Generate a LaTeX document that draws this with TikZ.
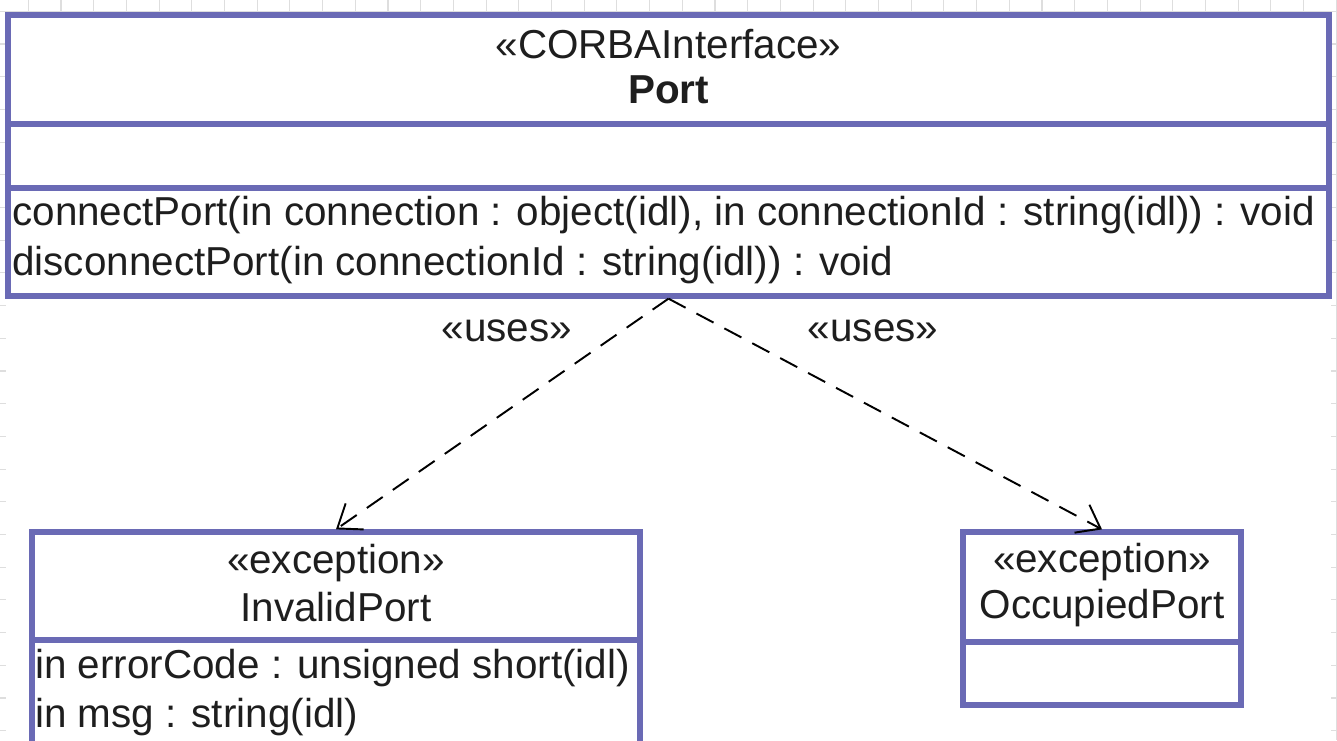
\documentclass[tikz,border=0pt]{standalone}
\usepackage{fontspec}
\setmainfont{Liberation Sans}
\usetikzlibrary{arrows.meta,positioning,fit}
\definecolor{Bc}{HTML}{6A6AB5}
\definecolor{Tc}{HTML}{1E1E1E}
\definecolor{faint}{HTML}{DEDEDE}
\tikzset{
  cls/.style={draw=Bc, line width=3pt, fill=white, inner sep=0pt},
  sep/.style={draw=Bc, line width=3pt},
  txt/.style={text=Tc, font=\fontsize{23}{28}\selectfont, inner sep=0pt},
  bold/.style={txt, font=\fontsize{23}{28}\selectfont\bfseries},
  member/.style={txt, anchor=west},
  usesln/.style={-{Straight Barb[length=12pt,width=18pt]}, line width=1.1pt,
    dash pattern=on 11pt off 7pt},
  lat/.style={faint, line width=0.6pt},
}
\newcommand{\canvasgrid}{%
  \foreach \gx in {0,...,40} \draw[lat] ({28.3+32.7*\gx},0) -- ({28.3+32.7*\gx},740);
  \foreach \gy in {0,...,22} \draw[lat] (0,{11.3+32.7*\gy}) -- (1337,{11.3+32.7*\gy});
  \fill[white] (6,12) rectangle (1331,740);}

\begin{document}
\begin{tikzpicture}[x=0.02cm, y=-0.02cm]
  \useasboundingbox (0,0) rectangle (1337,740);
  \canvasgrid
  \coordinate (portNW) at (8,15);
  \coordinate (portSE) at (1329,296);
  \coordinate (invNW) at (32,532);
  \coordinate (invSE) at (640,770);
  \coordinate (occNW) at (963,532);
  \coordinate (occSE) at (1241,705);
  \node[cls, fit=(portNW)(portSE)] (port) {};
  \draw[sep] (port.west |- 0,124) -- (port.east |- 0,124);
  \draw[sep] (port.west |- 0,188) -- (port.east |- 0,188);
  \node[txt] (portst) at (668.5,44) {«CORBAInterface»};
  \node[bold] (portname) at (668.5,90) {Port};
  \node[member] (op1) at (12,215) {connectPort(in connection : object(idl), in connectionId : string(idl)) : void};
  \node[member] (op2) at (12,265) {disconnectPort(in connectionId : string(idl)) : void};
  \node[cls, fit=(invNW)(invSE)] (invalid) {};
  \draw[sep] (invalid.west |- 0,640) -- (invalid.east |- 0,640);
  \node[txt] (invst) at (336,563) {«exception»};
  \node[txt] (invname) at (336,607) {InvalidPort};
  \node[member] (at1) at (35,668) {in errorCode : unsigned short(idl)};
  \node[member] (at2) at (35,717) {in msg : string(idl)};
  \node[cls, fit=(occNW)(occSE)] (occ) {};
  \draw[sep] (occ.west |- 0,642) -- (occ.east |- 0,642);
  \node[txt] (occst) at (1102,562) {«exception»};
  \node[txt] (occname) at (1102,608) {OccupiedPort};
  \draw[usesln] (port.south) -- (invalid.north);
  \draw[usesln] (port.south) -- (occ.north);
  \node[txt] (uses1) at (507,331) {«uses»};
  \node[txt] (uses2) at (873,331) {«uses»};
\end{tikzpicture}
\end{document}
